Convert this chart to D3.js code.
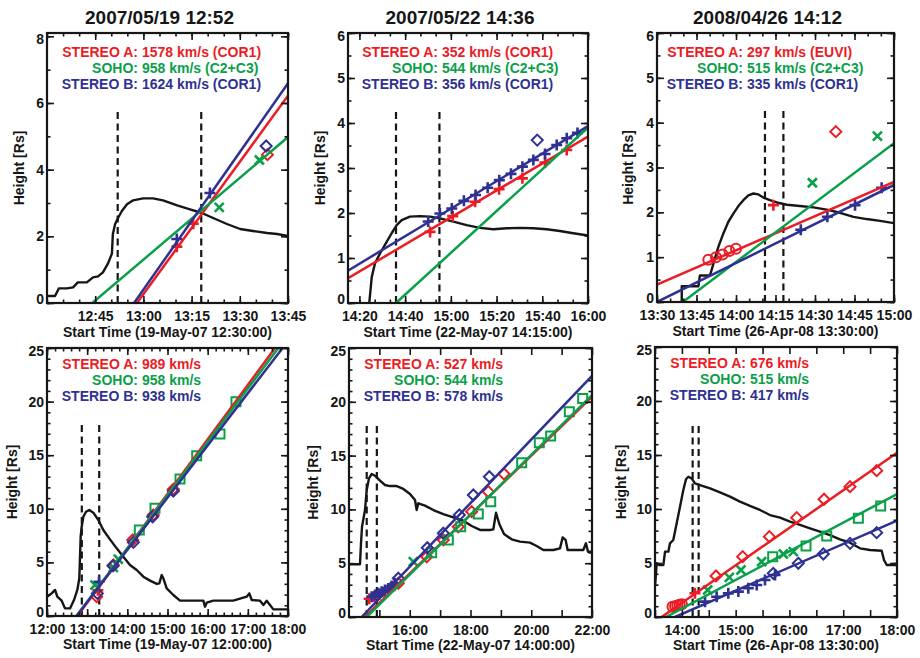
<!DOCTYPE html>
<html><head><meta charset="utf-8">
<script src="https://cdn.jsdelivr.net/npm/d3@7"></script>
<style>
body{margin:0;background:#fff}
text{font-family:"Liberation Sans",Arial,sans-serif;font-weight:bold}
</style>
</head><body>
<svg id="c" width="920" height="658"></svg>
<script>
// ---------------- DATA ----------------
const panelTitles = ["2007/05/19 12:52","2007/05/22 14:36","2008/04/26 14:12","","",""];
const xAxisTitles = ["Start Time (19-May-07 12:30:00)","Start Time (22-May-07 14:15:00)","Start Time (26-Apr-08 13:30:00)",
  "Start Time (19-May-07 12:00:00)","Start Time (22-May-07 14:00:00)","Start Time (26-Apr-08 13:30:00)"];
const yAxisTitle = "Height [Rs]";
const legendNames = ["STEREO A:","SOHO:","STEREO B:"];
const legendValues = [
  ["1578 km/s (COR1)","958 km/s (C2+C3)","1624 km/s (COR1)"],
  ["352 km/s (COR1)","544 km/s (C2+C3)","356 km/s (COR1)"],
  ["297 km/s (EUVI)","515 km/s (C2+C3)","335 km/s (COR1)"],
  ["989 km/s","958 km/s","938 km/s"],
  ["527 km/s","544 km/s","578 km/s"],
  ["676 km/s","515 km/s","417 km/s"]];

// x values are minutes after each panel's start time
const xDomains = [[0,75],[0,105],[0,90],[0,360],[0,480],[0,270]];
const yDomains = [[0,8.1],[0,6],[0,6],[0,25],[0,25],[0,25]];
const xTickValues = [[15,30,45,60,75],[5,25,45,65,85,105],[0,15,30,45,60,75,90],
  [0,60,120,180,240,300,360],[60,120,180,240,300,360,420,480],[0,30,60,90,120,150,180,210,240,270]];
const xTickLabels = [["12:45","13:00","13:15","13:30","13:45"],
  ["14:20","14:40","15:00","15:20","15:40","16:00"],
  ["13:30","13:45","14:00","14:15","14:30","14:45","15:00"],
  ["12:00","13:00","14:00","15:00","16:00","17:00","18:00"],
  ["","16:00","","18:00","","20:00","","22:00"],
  ["","14:00","","15:00","","16:00","","17:00","","18:00"]];
const xMinorSteps = [5,20/3,5,12,0,0];
const yTickValues = [[0,2,4,6,8],[0,1,2,3,4,5,6],[0,1,2,3,4,5,6],[0,5,10,15,20,25],[0,5,10,15,20,25],[0,5,10,15,20,25]];
const yMinorSteps = [1,0.5,0.5,1,1,1];
const flareTimes = [[22,48],[21,40],[41,48],[52,78],[35,55],[42,48.7]];

// normalised X-ray light curves (black)
const p1Flux = [[0,0.21],[2.5,0.21],[3.7,0.44],[6.2,0.44],[8.1,0.47],[9.6,0.62],[12.4,0.62],[14.3,0.77],[15.9,0.8],[17.4,0.92],[19.0,1.19],[20.2,1.48],[20.5,2.07],[21.2,2.37],[22.1,2.55],[23.3,2.76],[24.9,2.96],[26.8,3.08],[29.9,3.14],[33.0,3.14],[36.1,3.08],[40.5,2.93],[44.5,2.81],[48.2,2.70],[51.7,2.55],[56.0,2.37],[60.1,2.22],[64.1,2.16],[68.5,2.10],[71.6,2.07],[75,2.01]];
const p2Flux = [[9.2,-0.2],[9.3,0],[10.4,0.58],[11.8,0.88],[14,1.1],[16.6,1.33],[19.1,1.55],[21.3,1.73],[23.5,1.84],[27.1,1.92],[31.5,1.93],[35.9,1.92],[40.2,1.88],[46.1,1.81],[51.9,1.73],[57.7,1.67],[63.6,1.64],[69.4,1.66],[75.2,1.67],[81.1,1.66],[86.9,1.64],[92.7,1.6],[98.6,1.55],[105,1.5]];
const p3Flux = [[9.4,-0.1],[9.4,0.35],[15.7,0.35],[16.3,0.59],[20.1,0.59],[21.4,0.85],[23.3,1.23],[25.2,1.53],[27.1,1.79],[29.0,1.97],[30.9,2.14],[32.8,2.27],[34.7,2.38],[36.6,2.42],[38.5,2.40],[40.4,2.33],[42.9,2.27],[45.5,2.22],[49.3,2.17],[54.3,2.14],[59.4,2.11],[64.4,2.06],[69.5,1.99],[74.6,1.90],[79.6,1.85],[84.7,1.81],[90,1.76]];
const p4Flux = [[0,1.80],[7.0,2.11],[12,2.43],[15.4,1.80],[21.9,1.43],[26.9,0.71],[34.4,0.71],[40.3,1.49],[45.3,2.43],[48.3,3.52],[49.3,5.53],[50.3,7.40],[51.8,8.33],[54.3,9.26],[58.3,9.73],[63.2,9.89],[69.2,9.64],[76.7,8.96],[84.1,8.02],[94.1,7.15],[104.1,6.31],[114.0,5.53],[124,4.76],[134,4.29],[143.9,3.67],[153.9,3.30],[163.9,2.99],[167.8,3.05],[171.3,3.82],[173.8,3.52],[178.8,2.58],[188.7,1.96],[198.7,1.43],[213.6,1.43],[233.5,1.43],[236,0.87],[238.6,1.24],[248.5,1.43],[278.3,1.43],[298.3,1.80],[302.2,2.11],[305.8,1.49],[318.2,1.43],[323.2,1.03],[328.2,1.43],[333.1,1.03],[338.1,0.62],[360,0.62]];
const p5Flux = [[0.7,4.9],[21.7,4.9],[23.7,6.85],[25.7,8.39],[31.6,9.94],[35,11.8],[39.5,12.89],[44.8,13.29],[51.4,13.13],[61.2,12.67],[71.1,12.27],[81,12.17],[94.2,12.17],[107.3,11.9],[120.5,11.43],[130.4,10.87],[133.7,9.94],[136.9,10.57],[150.1,10.35],[166.6,9.94],[186.3,9.57],[206.1,9.26],[225.8,8.95],[242.3,8.46],[258.8,8.09],[278.5,8.09],[285.1,8.15],[290.4,9.69],[296.9,8.64],[306.2,7.71],[321.3,7.22],[337.8,7.0],[357.5,6.91],[370.7,6.6],[383.9,6.23],[403.6,6.23],[416.8,6.38],[422.1,7.4],[427.9,7.16],[431.9,6.23],[462.8,6.23],[468.1,6.85],[472.1,6.07],[480,6.07]];
const p6Flux = [[0,2.81],[1.9,4.97],[4.8,4.81],[9.3,4.81],[11.2,6.05],[14.9,6.05],[16.7,6.82],[20.4,7.13],[24.2,8.67],[27.9,10.21],[31.6,11.76],[34.6,12.75],[37.2,12.99],[40.9,12.84],[44.6,12.38],[50.2,12.22],[61.4,11.91],[72.5,11.54],[83.7,11.14],[94.8,10.68],[106,10.28],[117.1,9.91],[128.3,9.44],[139.5,9.2],[150.6,8.83],[161.8,8.52],[172.9,8.21],[184.1,7.9],[195.2,7.59],[206.4,7.19],[217.6,6.88],[228.7,6.36],[239.9,6.2],[252.9,6.14],[255.5,5.28],[258.5,4.81],[270,4.81]];

// linear fits [start, end]
const p1FitA = [[28,0],[75,6.22]],   p1FitS = [[14.1,0],[75,4.98]],  p1FitB = [[27.1,0],[75,6.59]];
const p2FitA = [[0,0.55],[105,3.70]], p2FitS = [[21,0],[105,3.9]],   p2FitB = [[0,0.72],[105,3.93]];
const p3FitA = [[0,0.39],[90,2.68]],  p3FitS = [[9.8,0],[90,3.54]],  p3FitB = [[0,0],[90,2.61]];
const p4FitA = [[45.5,0],[340.6,25]], p4FitS = [[44,0],[345.6,25]],  p4FitB = [[44,0],[352,25]];
const p5FitA = [[31.6,0],[480,20.47]],p5FitS = [[35,0],[480,20.63]], p5FitB = [[25,0],[480,22.4]];
const p6FitA = [[7.4,0],[270,15.21]], p6FitS = [[12.3,0],[270,11.39]],p6FitB = [[22.3,0],[270,8.92]];

// measurements
const p1A_plus = [[40.4,1.69],[45.5,2.38]];
const p1A_diamond = [[68.6,4.45]];
const p1S_x = [[53.6,2.87],[66.1,4.29]];
const p1B_plus = [[40.4,1.92],[50.7,3.30]];
const p1B_diamond = [[68.2,4.71]];

const p2A_plus = [[35.9,1.58],[45.8,1.93],[55.6,2.25],[66.1,2.53],[76.3,2.77],[86.2,3.12],[95.7,3.40]];
const p2B_plus = [[35.1,1.81],[40.2,1.99],[45.4,2.10],[50.7,2.27],[55.8,2.40],[61.1,2.56],[66.2,2.73],[71.3,2.87],[76.3,3.03],[81.1,3.18],[86.2,3.31],[91.3,3.51],[95.7,3.66],[100.4,3.78]];
const p2B_diamond = [[82.8,3.62]];

const p3A_circle = [[19.5,0.94],[22.4,1.00],[24.9,1.06],[27.5,1.14],[30.0,1.19]];
const p3A_plus = [[44.2,2.16]];
const p3A_diamond = [[67.9,3.80]];
const p3S_x = [[59.0,2.66],[83.7,3.70]];
const p3B_plus = [[54.6,1.61],[64.7,1.90],[75.2,2.16],[85.3,2.55]];

const p4A_plus = [[76,2.4]];
const p4A_diamond = [[74.2,1.80],[99.1,4.76],[128,7.09],[158.8,9.42],[188.7,11.82]];
const p4S_x = [[71.7,2.89],[99.1,4.54],[106.5,5.29]];
const p4S_square = [[137.9,8.02],[161.3,10.04],[198.7,12.78],[223.6,14.96],[258.4,16.98],[282.3,19.99]];
const p4B_plus = [[77.7,3.2]];
const p4B_diamond = [[75.2,2.11],[98.6,4.67],[129,6.87],[157.8,9.26],[188.7,11.66]];

const p5A_plus = [[40,1.7],[50,1.9],[60,2.1],[70,2.3],[80,2.6],[90,2.9]];
const p5A_diamond = [[97.4,3.13],[153.5,5.6],[186.3,7.16],[215.9,8.39],[242.3,9.79],[275.2,11.65],[306.2,13.29]];
const p5S_x = [[127,5.14]];
const p5S_square = [[163.3,5.98],[196.2,7.16],[220.6,8.39],[255.4,9.57],[279.9,10.72],[341.1,14.34],[375.9,16.2],[398.3,16.82],[435.2,19.08],[461.6,20.3]];
const p5B_plus = [[44.8,1.89],[51.4,2.04],[58,2.2],[64.5,2.35],[71.1,2.51],[77.7,2.66],[84.3,2.88],[90.9,3.13]];
const p5B_diamond = [[97.4,3.6],[154.7,6.44],[186.3,7.78],[217.9,9.48],[245.6,11.34],[277.2,13.04]];

const p6A_circle = [[19.5,0.94],[22.4,1.00],[24.9,1.06],[27.5,1.14],[30.0,1.19]];
const p6A_plus = [[44.6,2.2]];
const p6A_diamond = [[68.1,3.8],[97.8,5.59],[127.6,7.44],[158.1,9.2],[188.6,10.9],[217.6,12.07],[247.3,13.55]];
const p6S_x = [[58.8,2.5],[82.9,3.67],[95.9,4.35],[119,5.12],[143.2,5.83],[154.3,6.05]];
const p6S_square = [[131.3,5.59],[168.5,6.57],[191.6,7.5],[226.9,9.14],[251.8,10.28]];
const p6B_plus = [[55.8,1.42],[68.8,1.88],[81.8,2.19],[93,2.35],[104.1,2.66],[113.5,2.96],[122.7,3.43],[133.9,3.89]];
const p6B_diamond = [[132,4.04],[159.9,4.97],[187.8,5.83],[217.6,6.82],[247.3,7.81]];

// ---------------- ASSEMBLY ----------------
const fluxes = [p1Flux,p2Flux,p3Flux,p4Flux,p5Flux,p6Flux];
const fits = [
  [["A",p1FitA],["S",p1FitS],["B",p1FitB]],
  [["A",p2FitA],["S",p2FitS],["B",p2FitB]],
  [["A",p3FitA],["S",p3FitS],["B",p3FitB]],
  [["A",p4FitA],["S",p4FitS],["B",p4FitB]],
  [["A",p5FitA],["S",p5FitS],["B",p5FitB]],
  [["A",p6FitA],["S",p6FitS],["B",p6FitB]]];
const markerSets = [
  [["A","plus",p1A_plus],["A","diamond",p1A_diamond],["S","x",p1S_x],["B","plus",p1B_plus],["B","diamond",p1B_diamond]],
  [["A","plus",p2A_plus],["B","plus",p2B_plus],["B","diamond",p2B_diamond]],
  [["A","circle",p3A_circle],["A","plus",p3A_plus],["A","diamond",p3A_diamond],["S","x",p3S_x],["B","plus",p3B_plus]],
  [["A","plus",p4A_plus],["A","diamond",p4A_diamond],["S","x",p4S_x],["S","square",p4S_square],["B","plus",p4B_plus],["B","diamond",p4B_diamond]],
  [["A","plus",p5A_plus],["A","diamond",p5A_diamond],["S","x",p5S_x],["S","square",p5S_square],["B","plus",p5B_plus],["B","diamond",p5B_diamond]],
  [["A","circle",p6A_circle],["A","plus",p6A_plus],["A","diamond",p6A_diamond],["S","x",p6S_x],["S","square",p6S_square],["B","plus",p6B_plus],["B","diamond",p6B_diamond]]];

// ---------------- LAYOUT / STYLE ----------------
const frames = [
  {x0:47,x1:288,y0:33,y1:303},{x0:348,x1:588,y0:33,y1:303},{x0:657,x1:894,y0:33,y1:302},
  {x0:47,x1:288,y0:348,y1:616},{x0:349,x1:592,y0:348,y1:617},{x0:655,x1:897,y0:347,y1:617}];
const legendColon = [91,90,86,91,91,91];
const legendTop = [24,24,24,20.5,20.5,20.5];
const legendStep = [16,16,16,16.4,16.4,16.4];
const yTitleOff = [23,23,24,30,31,29];
const xTitleOff = [33.5,33.5,33.5,33,33,33];
const colors = {A:"#ec1c24",S:"#0aa04a",B:"#2e3192"};
const legendKeys = ["A","S","B"];
const ink = "#161616";
const symbolPath = {
  plus:"M-5.5,0H5.5M0,-5.5V5.5",
  x:"M-4.5,-4.5L4.5,4.5M-4.5,4.5L4.5,-4.5",
  diamond:"M0,-5.5L5.5,0L0,5.5L-5.5,0Z",
  square:"M-4.5,-4.5H4.5V4.5H-4.5Z",
  circle:"M-5,0A5,5 0 1,0 5,0A5,5 0 1,0 -5,0Z"
};

const svg = d3.select("#c");
svg.append("rect").attr("width",920).attr("height",658).attr("fill","#fff");
const defs = svg.append("defs");

frames.forEach((f,i)=>{
  const x = d3.scaleLinear().domain(xDomains[i]).range([f.x0,f.x1]);
  const y = d3.scaleLinear().domain(yDomains[i]).range([f.y1,f.y0]);
  const g = svg.append("g");
  defs.append("clipPath").attr("id","clip"+i).append("rect")
    .attr("x",f.x0).attr("y",f.y0).attr("width",f.x1-f.x0).attr("height",f.y1-f.y0);
  const pg = g.append("g").attr("clip-path",`url(#clip${i})`);

  // flare time dashed lines
  flareTimes[i].forEach(t=>{
    pg.append("line").attr("x1",x(t)).attr("x2",x(t))
      .attr("y1",f.y1).attr("y2",f.y1-0.715*(f.y1-f.y0))
      .attr("stroke",ink).attr("stroke-width",2.2).attr("stroke-dasharray","7,4.5");
  });

  // light curve
  const line = d3.line().x(d=>x(d[0])).y(d=>y(d[1]));
  pg.append("path").attr("d",line(fluxes[i])).attr("fill","none")
    .attr("stroke",ink).attr("stroke-width",2.4).attr("stroke-linejoin","round");

  // markers
  markerSets[i].forEach(([k,sym,pts])=>{
    pg.selectAll(null).data(pts).enter().append("path")
      .attr("d",symbolPath[sym])
      .attr("transform",d=>`translate(${x(d[0])},${y(d[1])})`)
      .attr("fill","none").attr("stroke",colors[k])
      .attr("stroke-width",sym==="plus"||sym==="x"?2.6:2);
  });

  // fit lines
  fits[i].forEach(([k,seg])=>{
    pg.append("path").attr("d",line(seg)).attr("fill","none")
      .attr("stroke",colors[k]).attr("stroke-width",2.5);
  });

  // axes (inward ticks, IDL style box)
  const style = sel=>{
    sel.select(".domain").remove();
    sel.selectAll("line").attr("stroke",ink).attr("stroke-width",1.6);
    sel.selectAll("text").attr("fill",ink).style("font-size","14px")
      .style("font-family",'"Liberation Sans",Arial,sans-serif').style("font-weight","bold");
  };
  const xMinor = xMinorSteps[i] ? d3.range(xTickValues[i][0]-Math.floor((xTickValues[i][0]-xDomains[i][0])/xMinorSteps[i]+1e-9)*xMinorSteps[i], xDomains[i][1]+1e-6, xMinorSteps[i]) : [];
  const yMinor = d3.range(yDomains[i][0], yDomains[i][1]+1e-6, yMinorSteps[i]);
  const labels = xTickLabels[i];

  const xb = g.append("g").attr("transform",`translate(0,${f.y1})`)
    .call(d3.axisBottom(x).tickValues(xTickValues[i]).tickFormat((d,j)=>labels[j]).tickSize(-7).tickPadding(8)).call(style);
  xb.selectAll("text").attr("dy",null).attr("y",17.5);
  g.append("g").attr("transform",`translate(0,${f.y1})`)
    .call(d3.axisBottom(x).tickValues(xMinor).tickFormat("").tickSize(-3.5)).call(style);
  g.append("g").attr("transform",`translate(0,${f.y0})`)
    .call(d3.axisTop(x).tickValues(xTickValues[i]).tickFormat("").tickSize(-7)).call(style);
  g.append("g").attr("transform",`translate(0,${f.y0})`)
    .call(d3.axisTop(x).tickValues(xMinor).tickFormat("").tickSize(-3.5)).call(style);

  const yl = g.append("g").attr("transform",`translate(${f.x0},0)`)
    .call(d3.axisLeft(y).tickValues(yTickValues[i]).tickFormat(d3.format("d")).tickSize(-7).tickPadding(3)).call(style);
  const yt = yl.selectAll("text");
  const n = yt.size();
  yt.each(function(d,j){ if(j===0) d3.select(this).attr("y",-3.5); if(j===n-1) d3.select(this).attr("y",3); });
  g.append("g").attr("transform",`translate(${f.x0},0)`)
    .call(d3.axisLeft(y).tickValues(yMinor).tickFormat("").tickSize(-3.5)).call(style);
  g.append("g").attr("transform",`translate(${f.x1},0)`)
    .call(d3.axisRight(y).tickValues(yTickValues[i]).tickFormat("").tickSize(-7)).call(style);
  g.append("g").attr("transform",`translate(${f.x1},0)`)
    .call(d3.axisRight(y).tickValues(yMinor).tickFormat("").tickSize(-3.5)).call(style);

  // frame
  g.append("rect").attr("x",f.x0).attr("y",f.y0).attr("width",f.x1-f.x0).attr("height",f.y1-f.y0)
    .attr("fill","none").attr("stroke",ink).attr("stroke-width",2.2);

  // legend
  legendKeys.forEach((k,j)=>{
    const ly = f.y0+legendTop[i]+j*legendStep[i];
    g.append("text").attr("x",f.x0+legendColon[i]).attr("y",ly).attr("text-anchor","end")
      .attr("fill",colors[k]).style("font-size","14px").text(legendNames[j]);
    g.append("text").attr("x",f.x0+legendColon[i]+4).attr("y",ly).attr("text-anchor","start")
      .attr("fill",colors[k]).style("font-size","14px").text(legendValues[i][j]);
  });

  // titles
  if(panelTitles[i]) g.append("text").attr("x",(f.x0+f.x1)/2-8).attr("y",24).attr("text-anchor","middle")
    .attr("fill",ink).style("font-size","19px").text(panelTitles[i]);
  g.append("text").attr("x",(f.x0+f.x1)/2).attr("y",f.y1+xTitleOff[i]).attr("text-anchor","middle")
    .attr("fill",ink).style("font-size","14px").text(xAxisTitles[i]);
  g.append("text").attr("transform",`translate(${f.x0-yTitleOff[i]},${(f.y0+f.y1)/2}) rotate(-90)`)
    .attr("text-anchor","middle").attr("fill",ink).style("font-size","14px").text(yAxisTitle);
});
</script>
</body></html>
